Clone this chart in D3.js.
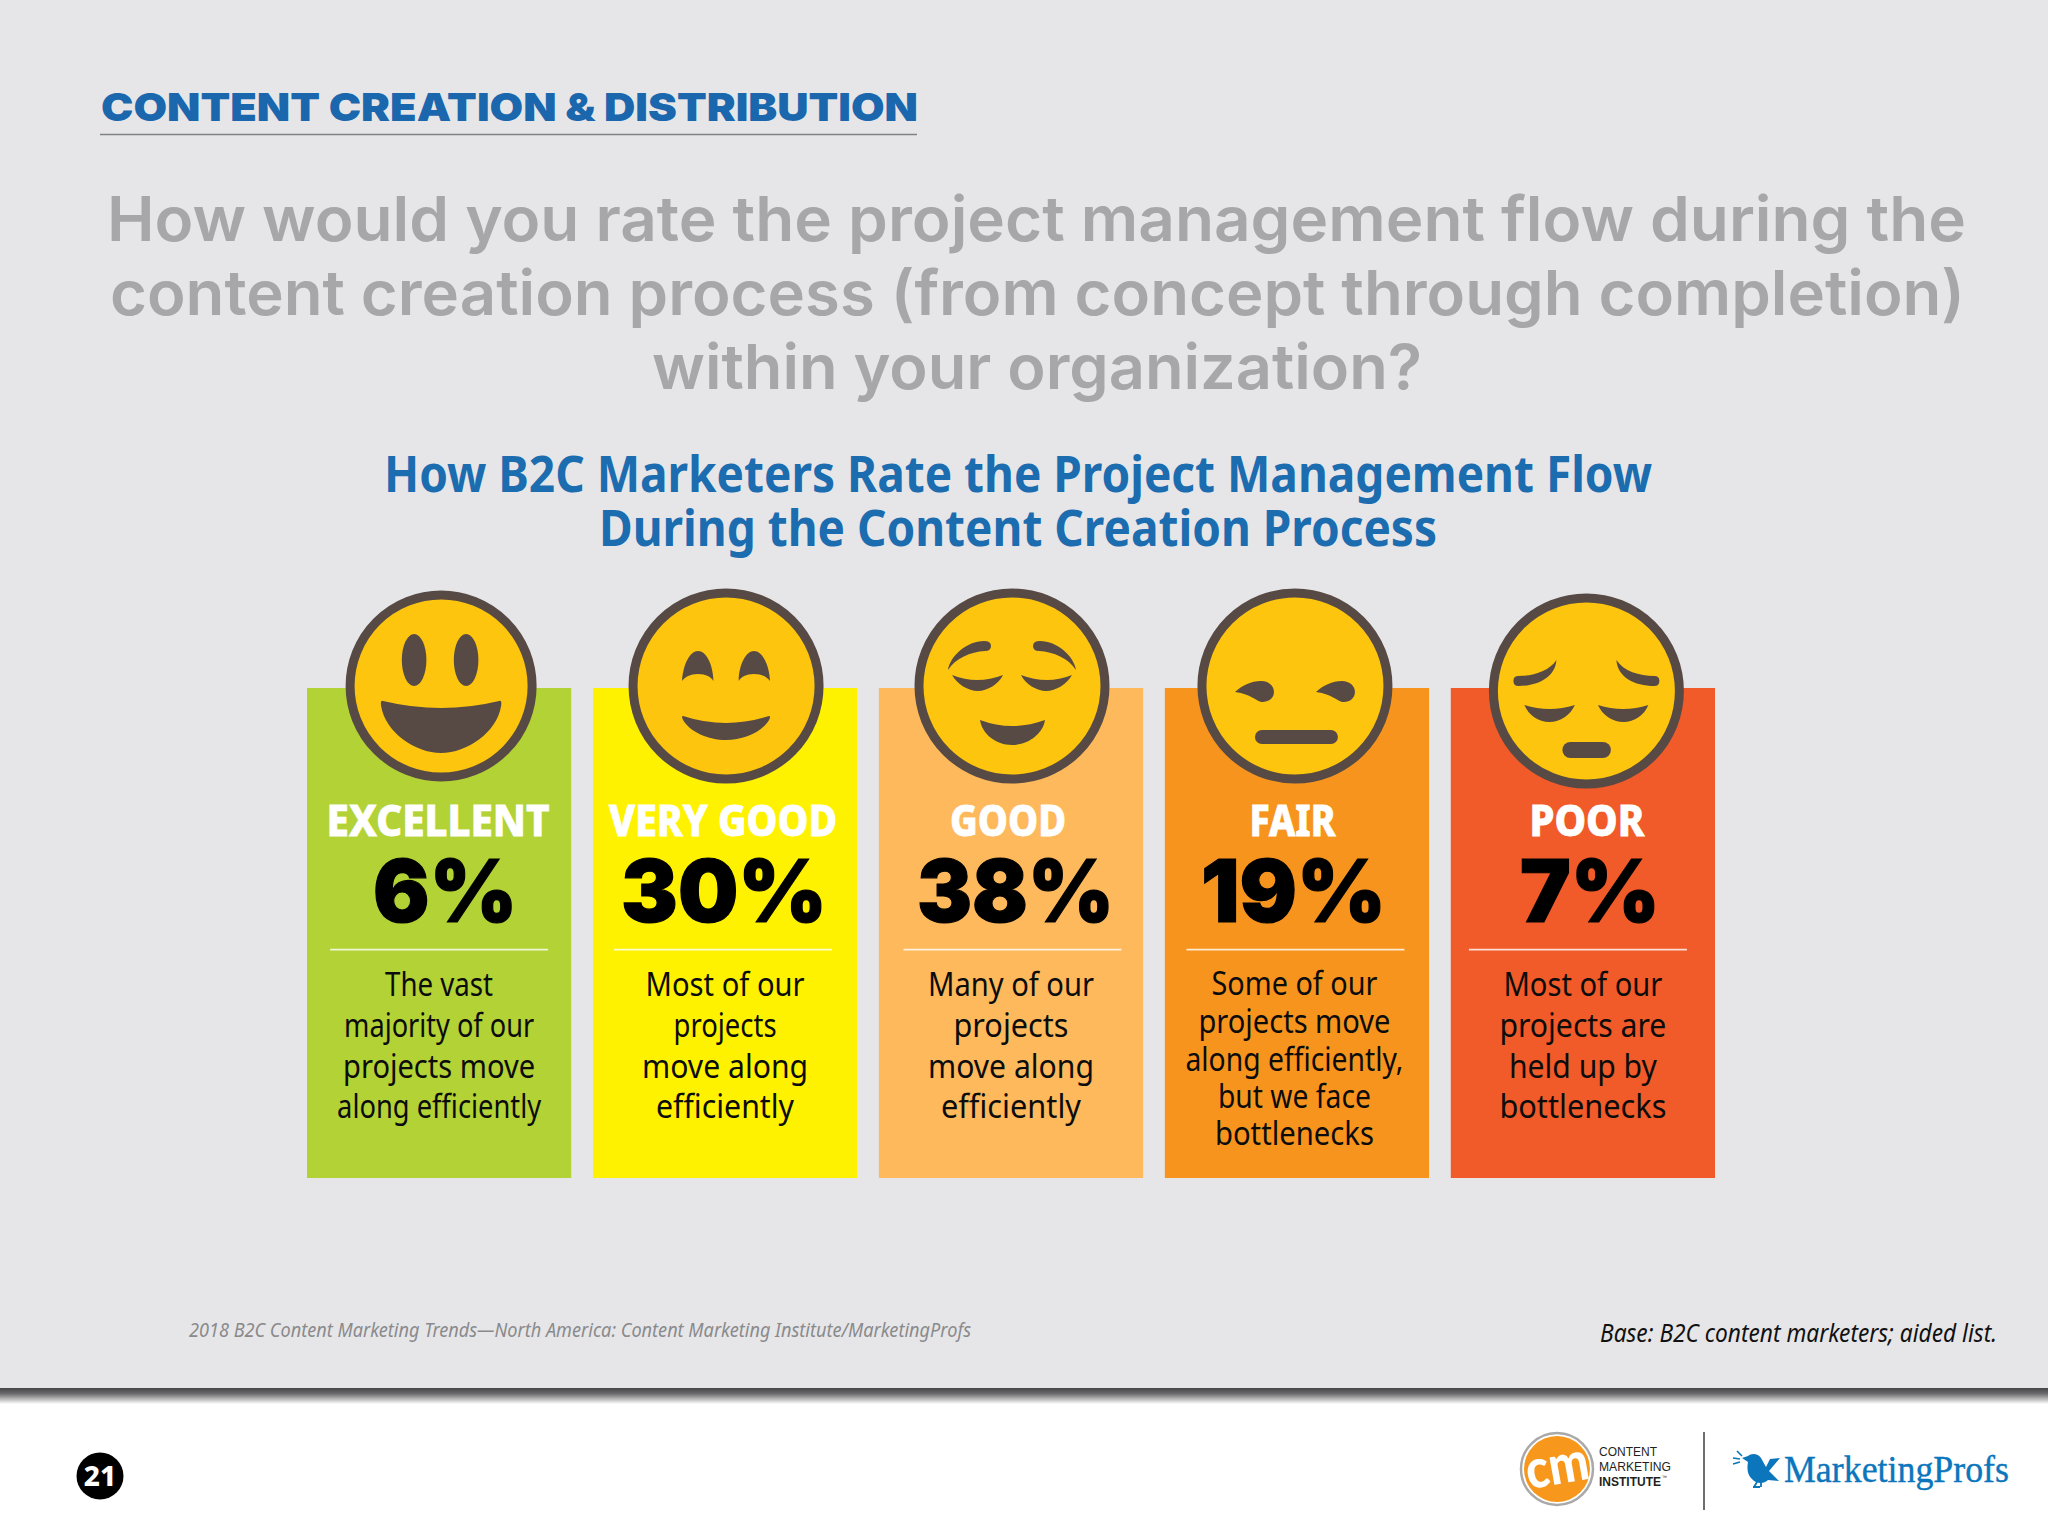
<!DOCTYPE html>
<html>
<head>
<meta charset="utf-8">
<script src="https://cdn.jsdelivr.net/npm/d3@7"></script>
<style>
  html, body { margin: 0; padding: 0; background: #fff; }
  svg { display: block; }
</style>
</head>
<body>
<div id="chart"></div>
<script>
// chart data
const categories = ["EXCELLENT", "VERY GOOD", "GOOD", "FAIR", "POOR"];
const percentValues = [6, 30, 38, 19, 7];
const descriptions = [
  ["The vast", "majority of our", "projects move", "along efficiently"],
  ["Most of our", "projects", "move along", "efficiently"],
  ["Many of our", "projects", "move along", "efficiently"],
  ["Some of our", "projects move", "along efficiently,", "but we face", "bottlenecks"],
  ["Most of our", "projects are", "held up by", "bottlenecks"]
];
const barColors = ["#b2d235", "#fff200", "#fdb95c", "#f7941d", "#f15a29"];

const headerText = "CONTENT CREATION & DISTRIBUTION";
const questionLines = [
  "How would you rate the project management flow during the",
  "content creation process (from concept through completion)",
  "within your organization?"
];
const subtitleLines = [
  "How B2C Marketers Rate the Project Management Flow",
  "During the Content Creation Process"
];
const sourceText = "2018 B2C Content Marketing Trends\u2014North America: Content Marketing Institute/MarketingProfs";
const baseText = "Base: B2C content marketers; aided list.";
const pageNumber = "21";
const cmiLines = ["CONTENT", "MARKETING", "INSTITUTE"];

const width = 2048, height = 1536;
const barTop = 688, barBottom = 1178;

// offsets from the centre of each bar
const faceOffset = [2, 1, 1, -2, 3.5];
const faceCy = [686, 686, 686, 686, 691];
const faceR = [91, 93, 93, 93, 93];
const labelOffset = [-1, -2, -3, -4.5, 4];
const labelWidth = [223, 228, 116, 86, 115];
const pctOffset = [6, -1, 4.5, -3.5, 7];
const pctWidth = [144, 206, 197, 185, 140];
const ruleOffset = [0, -2, 1.5, -1.5, -5];
const descOffset = [0, 0, 0, -2.5, 0];
const descWidth = [
  [108, 190, 192, 204],
  [159, 103, 166, 138],
  [166, 115, 166, 140],
  [166, 192, 218, 153, 159],
  [159, 167, 148, 167]
];
const descBaselines = [996, 1037, 1078, 1118];
const descBaselinesFive = [995, 1033, 1071, 1108, 1145];
const cmiWidths = [58, 72, 62];
const cmiBaselines = [1455.7, 1471, 1485.7];

const svg = d3.select("#chart").append("svg")
  .attr("width", width)
  .attr("height", height)
  .attr("viewBox", `0 0 ${width} ${height}`);

const defs = svg.append("defs");
const shadow = defs.append("linearGradient")
  .attr("id", "bandShadow")
  .attr("x1", 0).attr("y1", 0).attr("x2", 0).attr("y2", 1);
shadow.append("stop").attr("offset", "0%").attr("stop-color", "#454547");
shadow.append("stop").attr("offset", "35%").attr("stop-color", "#6a6a6c");
shadow.append("stop").attr("offset", "100%").attr("stop-color", "#ffffff");

// stretch a text to the width it has in the reference
function fit(sel, w) {
  return sel.attr("textLength", w).attr("lengthAdjust", "spacingAndGlyphs");
}

// background
svg.append("rect").attr("width", width).attr("height", height).attr("fill", "#ffffff");
svg.append("rect").attr("width", width).attr("height", 1388).attr("fill", "#e6e6e8");
svg.append("rect").attr("y", 1388).attr("width", width).attr("height", 16).attr("fill", "url(#bandShadow)");

// header
fit(svg.append("text")
  .attr("x", 101).attr("y", 120.5)
  .attr("font-family", "Inter, sans-serif")
  .attr("font-weight", 900)
  .attr("font-size", 39)
  .attr("fill", "#1a67ae")
  .text(headerText), 817);
svg.append("line")
  .attr("x1", 100).attr("x2", 917).attr("y1", 134.5).attr("y2", 134.5)
  .attr("stroke", "#808285").attr("stroke-width", 1.4);

// question
const questionBox = [[107, 1859, 241], [110, 1855, 315], [652, 770, 389]];
questionLines.forEach((line, i) => {
  fit(svg.append("text")
    .attr("x", questionBox[i][0]).attr("y", questionBox[i][2])
    .attr("font-family", "Inter, sans-serif")
    .attr("font-weight", 600)
    .attr("font-size", 62)
    .attr("fill", "#a7a7a9")
    .text(line), questionBox[i][1]);
});

// subtitle
const subtitleBox = [[384, 1268, 492], [599, 838, 546]];
subtitleLines.forEach((line, i) => {
  fit(svg.append("text")
    .attr("x", subtitleBox[i][0]).attr("y", subtitleBox[i][2])
    .attr("font-family", "'Noto Sans', sans-serif")
    .attr("font-weight", 700)
    .attr("font-size", 50)
    .attr("fill", "#1c6cb0")
    .text(line), subtitleBox[i][1]);
});

// bars
const x = d3.scaleBand()
  .domain(categories)
  .range([307, 1715])
  .paddingInner(0.076)
  .paddingOuter(0);
const cx = d => x(d) + x.bandwidth() / 2;

svg.append("g").selectAll("rect")
  .data(categories)
  .join("rect")
  .attr("x", d => x(d))
  .attr("y", barTop)
  .attr("width", x.bandwidth())
  .attr("height", barBottom - barTop)
  .attr("fill", (d, i) => barColors[i]);

// face glyphs, coordinates are relative to the face centre
const ellipseD = (ex, ey, rx, ry) =>
  `M${ex - rx},${ey}a${rx},${ry} 0 1,0 ${2 * rx},0a${rx},${ry} 0 1,0 ${-2 * rx},0Z`;
const pillD = (x0, x1, y0, y1) => {
  const r = (y1 - y0) / 2;
  return `M${x0 + r},${y0}L${x1 - r},${y0}A${r},${r} 0 0 1 ${x1 - r},${y1}L${x0 + r},${y1}A${r},${r} 0 0 1 ${x0 + r},${y0}Z`;
};
const mirror = "scale(-1,1)";
const faceParts = [
  [
    { d: ellipseD(-27, -26, 12.3, 26) },
    { d: ellipseD(25, -26, 12.3, 26) },
    { d: "M-58,15Q0,29 58,15Q61,14 60,20C56,46 26,67 0,67C-26,67 -56,46 -60,20Q-61,14 -58,15Z" }
  ],
  [
    { d: "M-44,-5C-43,-22 -36,-35 -28,-35C-20,-35 -13,-22 -12.6,-5C-15,-9 -20,-12 -28,-12C-36,-12 -41,-9 -44,-5Z" },
    { d: "M-44,-5C-43,-22 -36,-35 -28,-35C-20,-35 -13,-22 -12.6,-5C-15,-9 -20,-12 -28,-12C-36,-12 -41,-9 -44,-5Z", t: mirror },
    { d: "M-43,30Q0,44 43,30Q45,30 43,34C36,46 18,54 0,54C-18,54 -36,46 -43,34Q-45,30 -43,30Z" }
  ],
  [
    { d: "M-64,-16C-62,-30 -45,-45 -28,-45Q-21,-45 -21,-40Q-21,-35 -27,-35C-42,-34 -56,-28 -64,-16Z" },
    { d: "M-64,-16C-62,-30 -45,-45 -28,-45Q-21,-45 -21,-40Q-21,-35 -27,-35C-42,-34 -56,-28 -64,-16Z", t: mirror },
    { d: "M-60,-11Q-35,-1 -9,-11C-13,-2 -25,5 -34,5C-44,5 -55,-2 -60,-11Z" },
    { d: "M-60,-11Q-35,-1 -9,-11C-13,-2 -25,5 -34,5C-44,5 -55,-2 -60,-11Z", t: mirror },
    { d: "M-32,34Q0,46 33,34C31,48 16,59 0,59C-16,59 -30,48 -32,34Z" }
  ],
  [
    { d: "M-60,6C-52,-1 -44,-5 -34,-5C-26,-5 -21,0 -21,6C-21,12 -26,16 -32,16C-39,16 -43,8 -60,6Z" },
    { d: "M-60,6C-52,-1 -44,-5 -34,-5C-26,-5 -21,0 -21,6C-21,12 -26,16 -32,16C-39,16 -43,8 -60,6Z", t: "translate(81,0)" },
    { d: pillD(-40, 43, 44, 58) }
  ],
  [
    { d: "M-30,-31C-37,-20 -53,-15 -68,-15Q-73,-15 -73,-10Q-73,-5 -68,-5C-48,-5 -31,-14 -30,-31Z" },
    { d: "M-30,-31C-37,-20 -53,-15 -68,-15Q-73,-15 -73,-10Q-73,-5 -68,-5C-48,-5 -31,-14 -30,-31Z", t: mirror },
    { d: "M-62,14Q-37,22 -11.5,14C-16,24 -26,31 -37,31C-48,31 -58,24 -62,14Z" },
    { d: "M-62,14Q-37,22 -11.5,14C-16,24 -26,31 -37,31C-48,31 -58,24 -62,14Z", t: mirror },
    { d: pillD(-24, 24.5, 51, 67) }
  ]
];

const faces = svg.append("g").selectAll("g")
  .data(categories)
  .join("g")
  .attr("transform", (d, i) => `translate(${cx(d) + faceOffset[i]},${faceCy[i]})`);

faces.append("circle")
  .attr("r", (d, i) => faceR[i])
  .attr("fill", "#fec50e")
  .attr("stroke", "#574a44")
  .attr("stroke-width", 9);

faces.each(function(d, i) {
  d3.select(this).selectAll("path")
    .data(faceParts[i])
    .join("path")
    .attr("d", p => p.d)
    .attr("transform", p => p.t || null)
    .attr("fill", "#574a44");
});

// card texts
categories.forEach((cat, i) => {
  const c = cx(cat);

  fit(svg.append("text")
    .attr("x", c + labelOffset[i] - labelWidth[i] / 2).attr("y", 836)
    .attr("font-family", "'Noto Sans', sans-serif")
    .attr("font-weight", 800)
    .attr("font-size", 43)
    .attr("fill", "#ffffff")
    .attr("stroke", "#ffffff")
    .attr("stroke-width", 0.8)
    .text(cat), labelWidth[i]);

  fit(svg.append("text")
    .attr("x", c + pctOffset[i] - pctWidth[i] / 2).attr("y", 922)
    .attr("font-family", "Inter, sans-serif")
    .attr("font-weight", 900)
    .attr("font-size", 87)
    .attr("fill", "#000000")
    .attr("stroke", "#000000")
    .attr("stroke-width", 1.2)
    .text(percentValues[i] + "%"), pctWidth[i]);

  svg.append("line")
    .attr("x1", c + ruleOffset[i] - 109).attr("x2", c + ruleOffset[i] + 109)
    .attr("y1", 949.7).attr("y2", 949.7)
    .attr("stroke", "#ffffff").attr("stroke-opacity", 0.8).attr("stroke-width", 1.8);

  const lines = descriptions[i];
  const ys = lines.length === 5 ? descBaselinesFive : descBaselines;
  lines.forEach((line, j) => {
    fit(svg.append("text")
      .attr("x", c + descOffset[i] - descWidth[i][j] / 2).attr("y", ys[j])
      .attr("font-family", "'Noto Sans', sans-serif")
      .attr("font-size", 32)
      .attr("fill", "#0c0c0c")
      .text(line), descWidth[i][j]);
  });
});

// footnotes
fit(svg.append("text")
  .attr("x", 189).attr("y", 1337)
  .attr("font-family", "'Noto Sans', sans-serif")
  .attr("font-style", "italic")
  .attr("font-size", 20)
  .attr("fill", "#8a8a8c")
  .text(sourceText), 782);
fit(svg.append("text")
  .attr("x", 1600).attr("y", 1342)
  .attr("font-family", "'Noto Sans', sans-serif")
  .attr("font-style", "italic")
  .attr("font-size", 26)
  .attr("fill", "#111111")
  .text(baseText), 397);

// page number
svg.append("circle").attr("cx", 100).attr("cy", 1476).attr("r", 23.5).attr("fill", "#000000");
svg.append("text")
  .attr("x", 100).attr("y", 1486)
  .attr("text-anchor", "middle")
  .attr("font-family", "'Noto Sans', sans-serif")
  .attr("font-weight", 800)
  .attr("font-size", 28)
  .attr("fill", "#ffffff")
  .text(pageNumber);

// CMI logo
svg.append("circle").attr("cx", 1557).attr("cy", 1469).attr("r", 36)
  .attr("fill", "#ffffff").attr("stroke", "#a9a9a9").attr("stroke-width", 2.5);
svg.append("circle").attr("cx", 1557).attr("cy", 1469).attr("r", 33).attr("fill", "#f7981d");
fit(svg.append("text")
  .attr("x", 1526).attr("y", 1484)
  .attr("transform", "rotate(-10 1557 1469)")
  .attr("font-family", "Lato, sans-serif")
  .attr("font-weight", 900)
  .attr("font-size", 54)
  .attr("fill", "#ffffff")
  .text("cm"), 63);
cmiLines.forEach((line, i) => {
  fit(svg.append("text")
    .attr("x", 1599).attr("y", cmiBaselines[i])
    .attr("font-family", "'Liberation Sans', sans-serif")
    .attr("font-size", 13.5)
    .attr("font-weight", i === 2 ? 700 : 400)
    .attr("fill", "#231f20")
    .text(line), cmiWidths[i]);
});
svg.append("text")
  .attr("x", 1662).attr("y", 1479)
  .attr("font-family", "'Liberation Sans', sans-serif")
  .attr("font-size", 5)
  .attr("fill", "#231f20")
  .text("\u2122");
svg.append("line")
  .attr("x1", 1704).attr("x2", 1704).attr("y1", 1432).attr("y2", 1510)
  .attr("stroke", "#6d6e71").attr("stroke-width", 2);

// MarketingProfs logo
const bird = svg.append("g").attr("fill", "#0b76bc").attr("transform", "translate(1732,1450)");
bird.append("path").attr("d", "M10,8L16,6C19,3 26,3 29,8L34,17L38,9L48,8L37,21L47,31L36,30C32,34 24,34 20,29C15,25 15,17 16,12Z");
bird.append("path").attr("d", "M25,32L22,37M21,37L28,37M29,32L29,37")
  .attr("fill", "none").attr("stroke", "#0b76bc").attr("stroke-width", 1.8);
bird.append("path").attr("d", "M5,1L10,6M1,8L8,9M1,14L8,12")
  .attr("fill", "none").attr("stroke", "#0b76bc").attr("stroke-width", 1.6);
fit(svg.append("text")
  .attr("x", 1784).attr("y", 1482)
  .attr("font-family", "'Liberation Serif', serif")
  .attr("font-size", 38)
  .attr("fill", "#0b76bc")
  .attr("stroke", "#0b76bc")
  .attr("stroke-width", 0.4)
  .text("MarketingProfs"), 225);
</script>
</body>
</html>
